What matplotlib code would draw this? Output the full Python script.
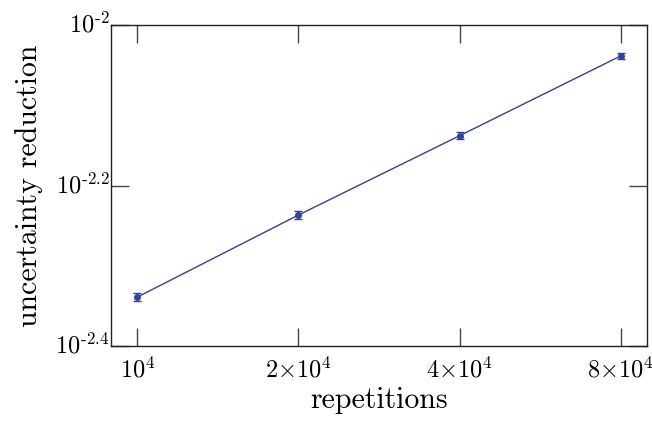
import matplotlib
matplotlib.use("Agg")
import matplotlib.pyplot as plt
from matplotlib.ticker import FixedLocator, FixedFormatter, NullLocator

# data
repetitions = [1e4, 2e4, 4e4, 8e4]
reduction = [0.004581, 0.005797, 0.007278, 0.009150]
reduction_err = [0.00005, 0.00006, 0.00007, 0.00008]

xticks = [1e4, 2e4, 4e4, 8e4]
xtick_labels = [r"$10^4$", r"$2{\times}10^4$", r"$4{\times}10^4$", r"$8{\times}10^4$"]
yticks = [10 ** -2.4, 10 ** -2.2, 10 ** -2]
ytick_labels = [r"$10^{\text{-}2.4}$", r"$10^{\text{-}2.2}$", r"$10^{\text{-}2}$"]

plt.rcParams["mathtext.fontset"] = "cm"
plt.rcParams["font.family"] = ["cmr10", "DejaVu Serif"]
plt.rcParams["axes.unicode_minus"] = False

color = "#3141a0"

fig = plt.figure(figsize=(6.52, 4.21), dpi=100)
ax = fig.add_axes([111 / 652, 1 - 346 / 421, (647 - 111) / 652, (346 - 25) / 421])

ax.errorbar(repetitions, reduction, yerr=reduction_err, color=color, lw=1.0,
            marker="o", ms=4, capsize=3, elinewidth=1.0, capthick=1.0)

ax.set_xscale("log")
ax.set_yscale("log")
ax.set_xlim(1e4 / 1.12, 8e4 * 1.12)
ax.set_ylim(10 ** -2.4, 10 ** -2)

ax.xaxis.set_major_locator(FixedLocator(xticks))
ax.xaxis.set_major_formatter(FixedFormatter(xtick_labels))
ax.xaxis.set_minor_locator(NullLocator())
ax.yaxis.set_major_locator(FixedLocator(yticks))
ax.yaxis.set_major_formatter(FixedFormatter(ytick_labels))
ax.yaxis.set_minor_locator(NullLocator())

ax.tick_params(direction="in", length=13, width=1.0, color="#444444",
               top=True, right=True, labelsize=17.5)
ax.tick_params(axis="x", pad=8)
ax.tick_params(axis="y", pad=1)
for lab in ax.get_yticklabels():
    lab.set_verticalalignment("center")
for s in ax.spines.values():
    s.set_linewidth(1.0)
    s.set_color("#222222")

ax.set_xlabel("repetitions", fontsize=21.5, labelpad=3)
ax.set_ylabel("uncertainty reduction", fontsize=21.5, labelpad=9)

fig.savefig("out.png", dpi=100)
